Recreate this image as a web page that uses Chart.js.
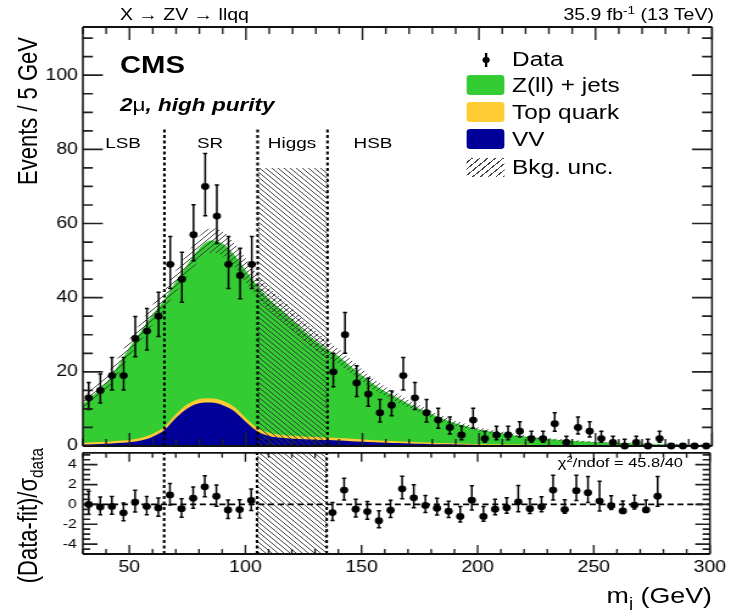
<!DOCTYPE html>
<html>
<head>
<meta charset="utf-8">
<title>X → ZV → llqq: jet mass distribution</title>
<script src="https://cdn.jsdelivr.net/npm/chart.js@4.4.1/dist/chart.umd.min.js"></script>
<style>
  html, body { margin: 0; padding: 0; background: #fff; }
  /* the figure is laid out 600 px wide and widened to 731 px */
  #fig { position: relative; width: 600px; height: 610px; overflow: hidden;
         transform: scaleX(1.21833); transform-origin: 0 0;
         font-family: "Liberation Sans", Arial, Helvetica, sans-serif; color: #000; }
  #fig canvas { position: absolute; left: 0; }
  #mainCanvas { top: 0; }
  #pullCanvas { top: 440px; }
  .lbl { position: absolute; white-space: nowrap; line-height: 1; }
  .ctr { transform: translateX(-50%); }
  .vt { position: absolute; white-space: nowrap; line-height: 1; width: 300px; text-align: right;
        transform: rotate(-90deg); transform-origin: left top; }
  .sw { position: absolute; left: 383.3px; width: 31px; height: 20px; border-radius: 3px; }
  sup, sub { font-size: 0.7em; vertical-align: 0; position: relative; }
  sup { top: -0.55em; }
  sub { top: 0.3em; }
</style>
</head>
<body>
<div id="fig">
  <canvas id="mainCanvas" width="600" height="470"></canvas>
  <canvas id="pullCanvas" width="600" height="170"></canvas>

  <div class="lbl" style="left:98.5px; top:7px; font-size:16px;">X → ZV → llqq</div>
  <div class="lbl" style="right:14px; top:7px; font-size:16px;">35.9 fb<sup>-1</sup> (13 TeV)</div>
  <div class="lbl" style="left:98.5px; top:53px; font-size:24px; font-weight:bold;">CMS</div>
  <div class="lbl" style="left:98.5px; top:96px; font-size:18.5px; font-weight:bold; font-style:italic;">2<span style="font-style:normal; font-weight:normal;">μ</span>, high purity</div>

  <div class="lbl ctr" style="left:101px; top:135.4px; font-size:15.5px;">LSB</div>
  <div class="lbl ctr" style="left:172.4px; top:135.4px; font-size:15.5px;">SR</div>
  <div class="lbl ctr" style="left:239.7px; top:135.4px; font-size:15.5px;">Higgs</div>
  <div class="lbl ctr" style="left:306.2px; top:135.4px; font-size:15.5px;">HSB</div>

  <!-- legend -->
  <div style="position:absolute; left:398.2px; top:53px; width:1.4px; height:14px; background:#000;"></div>
  <div style="position:absolute; left:395.5px; top:56.6px; width:6.8px; height:6.8px; border-radius:50%; background:#000;"></div>
  <div class="lbl" style="left:420.3px; top:48.5px; font-size:20px;">Data</div>
  <div class="sw" style="top:75px; background:#33cc33;"></div>
  <div class="lbl" style="left:420.3px; top:75.2px; font-size:20px;">Z(ll) + jets</div>
  <div class="sw" style="top:102px; background:#ffcc33;"></div>
  <div class="lbl" style="left:420.3px; top:102.2px; font-size:20px;">Top quark</div>
  <div class="sw" style="top:129px; background:#000099;"></div>
  <div class="lbl" style="left:420.3px; top:129.2px; font-size:20px;">VV</div>
  <div class="sw" style="top:158px; height:19px; border-radius:0; background:repeating-linear-gradient(-45deg, #444 0 1px, transparent 1px 4.5px);"></div>
  <div class="lbl" style="left:420.3px; top:157.2px; font-size:20px;">Bkg. unc.</div>

  <div class="lbl" style="right:39.4px; top:456.4px; font-size:13.5px;">χ<sup>2</sup>/ndof = 45.8/40</div>

  <div class="vt" style="left:12.3px; top:337px; font-size:22px;">Events / 5 GeV</div>
  <div class="vt" style="left:12.3px; top:748px; font-size:22px;">(Data-fit)/σ<sub>data</sub></div>
  <div class="lbl" style="right:15.6px; top:585px; font-size:22px;">m<sub>j</sub> (GeV)</div>
</div>

<script>
// ---------------- measured data: events per 5 GeV bin ----------------
const binCenters = [32.5, 37.5, 42.5, 47.5, 52.5, 57.5, 62.5, 67.5, 72.5, 77.5, 82.5, 87.5, 92.5, 97.5, 102.5,
  107.5, 112.5, 117.5, 122.5, 127.5, 132.5,
  137.5, 142.5, 147.5, 152.5, 157.5, 162.5, 167.5, 172.5, 177.5, 182.5, 187.5, 192.5, 197.5, 202.5,
  207.5, 212.5, 217.5, 222.5, 227.5, 232.5, 237.5, 242.5, 247.5, 252.5, 257.5, 262.5, 267.5, 272.5,
  277.5, 282.5, 287.5, 292.5, 297.5];
// Higgs window (105-135 GeV) is blinded
const dataCounts = [13, 15, 19, 19, 29, 31, 35, 49, 45, 57, 70, 62, 49, 46, 49,
  null, null, null, null, null, null,
  20, 30, 17, 14, 9, 11, 19, 13, 9, 7, 5, 3, 7, 2,
  3, 3, 4, 2, 2, 6, 1, 5, 4, 2, 1, 0, 1, 0,
  2, 0, 0, 0, 0];
// (Data - fit) / sigma_data per bin
const pullValues = [0.0, -0.26, -0.2, -0.85, 0.23, -0.2, -0.36, 0.95, -0.43, 0.62, 1.77, 0.82, -0.56, -0.52, 0.39,
  null, null, null, null, null, null,
  -0.82, 1.44, -0.49, -0.72, -1.64, -0.59, 1.57, 0.66, -0.1, -0.39, -0.69, -1.21, 0.43, -1.21,
  -0.49, -0.33, 0.26, -0.43, -0.23, 1.44, -0.52, 1.38, 1.18, 0.33, -0.13, -0.66, -0.07, -0.56,
  0.82, null, null, null, null];

// ---------------- background fit, sampled every 5 GeV ----------------
const fitMass = [30, 35, 40, 45, 50, 55, 60, 65, 70, 75, 80, 85, 90, 95, 100, 105, 110, 115, 120, 125,
  130, 135, 140, 145, 150, 155, 160, 165, 170, 175, 180, 185, 190, 195, 200, 205, 210, 215, 220, 225,
  230, 235, 240, 245, 250, 255, 260, 265, 270, 275, 280, 285, 290, 295, 300];
const fitVV = [0.4, 0.5, 0.6, 0.8, 1.0, 1.5, 2.5, 4.3, 7.6, 10.2, 11.5, 11.7, 11.0, 9.4, 6.5, 3.9, 2.7, 2.2, 1.95, 1.8,
  1.7, 1.6, 1.45, 1.3, 1.15, 1.0, 0.9, 0.8, 0.7, 0.6, 0.5, 0.45, 0.4, 0.35, 0.3, 0.25, 0.22, 0.2, 0.17, 0.15,
  0.13, 0.12, 0.1, 0.09, 0.08, 0.07, 0.06, 0.05, 0.05, 0.04, 0.04, 0.03, 0.03, 0.03, 0.02];
const fitTopQuark = [0.5, 0.5, 0.55, 0.6, 0.65, 0.7, 0.8, 0.9, 1.0, 1.1, 1.2, 1.2, 1.2, 1.1, 1.0, 0.95, 0.9, 0.85, 0.8, 0.78,
  0.75, 0.72, 0.7, 0.66, 0.62, 0.58, 0.54, 0.5, 0.46, 0.42, 0.38, 0.35, 0.32, 0.29, 0.26, 0.23, 0.21, 0.19, 0.17, 0.15,
  0.13, 0.12, 0.11, 0.1, 0.09, 0.08, 0.07, 0.06, 0.05, 0.05, 0.04, 0.04, 0.03, 0.03, 0.03];
const fitZJets = [10.4, 13.0, 15.9, 20.1, 24.9, 28.8, 32.2, 34.3, 35.9, 37.7, 40.6, 42.5, 42.4, 41.0, 39.8, 38.2, 36.0, 33.8, 31.3, 28.4,
  25.9, 23.7, 21.9, 19.5, 17.2, 15.0, 13.2, 11.7, 10.2, 8.9, 7.6, 6.4, 5.4, 4.6, 3.9, 3.4, 3.0, 2.5, 2.2, 1.9,
  1.6, 1.4, 1.2, 1.0, 0.9, 0.75, 0.67, 0.6, 0.5, 0.41, 0.37, 0.33, 0.29, 0.24, 0.2];
const fitUncertainty = [1.8, 1.9, 2.0, 2.15, 2.3, 2.45, 2.6, 2.75, 2.9, 3.05, 3.2, 3.3, 3.3, 3.25, 3.2, 3.1, 3.0, 2.9, 2.8, 2.65,
  2.5, 2.3, 2.1, 1.85, 1.65, 1.45, 1.3, 1.15, 1.05, 0.95, 0.85, 0.75, 0.68, 0.6, 0.55, 0.5, 0.45, 0.4, 0.36, 0.33,
  0.3, 0.27, 0.25, 0.23, 0.21, 0.19, 0.17, 0.16, 0.15, 0.14, 0.13, 0.12, 0.11, 0.1, 0.1];

// ---------------- regions and axes ----------------
const regionEdges = [65, 105, 135];
const higgsWindow = [105, 135];
const higgsBoxTop = 75;
const regionLineTop = 86;
const massRange = [30, 300];
const eventsRange = [0, 113];
const pullRange = [-5, 5.2];
const xTickLabels = [50, 100, 150, 200, 250, 300];
const yTickLabels = [0, 20, 40, 60, 80, 100];
const pullTickLabels = [-4, -2, 0, 2, 4];

// ---------------- helpers ----------------
Chart.defaults.font.family = '"Liberation Sans", Arial, Helvetica, sans-serif';
Chart.defaults.color = '#000';

// approximate 68% Poisson interval of an observed count
function poissonErr(n) {
  if (n === 0) return { lo: 0, hi: 1.84 };
  const r = Math.sqrt(n + 0.25);
  return { lo: r - 0.5, hi: r + 0.5 };
}

function hatch(dir, size, color, width) {
  const c = document.createElement('canvas');
  c.width = size; c.height = size;
  const g = c.getContext('2d');
  g.strokeStyle = color; g.lineWidth = width;
  g.beginPath();
  if (dir === '/') {
    g.moveTo(-1, size + 1); g.lineTo(size + 1, -1);
    g.moveTo(-1, 1); g.lineTo(1, -1);
    g.moveTo(size - 1, size + 1); g.lineTo(size + 1, size - 1);
  } else {
    g.moveTo(-1, -1); g.lineTo(size + 1, size + 1);
    g.moveTo(-1, size - 1); g.lineTo(1, size + 1);
    g.moveTo(size - 1, -1); g.lineTo(size + 1, 1);
  }
  g.stroke();
  return g.createPattern(c, 'repeat');
}
const slashHatch = hatch('/', 5, '#333', 0.9);
const backHatch = hatch('\\', 5, '#333', 0.9);

const pts = ys => fitMass.map((m, i) => ({ x: m, y: ys[i] }));
const stackVV = fitVV.slice();
const stackTop = fitVV.map((v, i) => v + fitTopQuark[i]);
const stackAll = stackTop.map((v, i) => v + fitZJets[i]);
const bandHi = stackAll.map((v, i) => v + fitUncertainty[i]);
const bandLo = stackAll.map((v, i) => Math.max(0, v - fitUncertainty[i]));

// measured points and their error bars
const dataPoints = [], mainBars = [], pullPoints = [], pullBars = [];
binCenters.forEach((m, i) => {
  const n = dataCounts[i];
  if (n === null) return;
  dataPoints.push({ x: m, y: n });
  const e = poissonErr(n);
  const p = pullValues[i];
  if (n > 0 || p !== null) mainBars.push({ x: m, lo: n - e.lo, hi: n + e.hi });
  if (p !== null) {
    pullPoints.push({ x: m, y: p });
    let up, dn;
    if (p >= 0) { dn = 1; up = e.lo > 0 ? e.hi / e.lo : 1; }
    else { up = 1; dn = e.lo / e.hi; }
    pullBars.push({ x: m, lo: p - dn, hi: p + up });
  }
});

// frame, inward ticks on all sides and error bars, painted just before the data markers
function panelDecor(cfg) {
  return {
    id: 'panelDecor',
    beforeDatasetDraw(chart, args) {
      if (args.index !== 0) return;
      const { ctx, chartArea: a } = chart;
      const xs = chart.scales.x, ys = chart.scales.y;
      ctx.save();
      // error bars
      ctx.strokeStyle = '#000';
      ctx.lineWidth = 1.5;
      ctx.beginPath();
      for (const b of cfg.bars) {
        const px = xs.getPixelForValue(b.x);
        const p1 = ys.getPixelForValue(Math.max(b.lo, ys.min));
        const p2 = ys.getPixelForValue(Math.min(b.hi, ys.max));
        ctx.moveTo(px, p1); ctx.lineTo(px, p2);
        ctx.moveTo(px - 1.7, p1); ctx.lineTo(px + 1.7, p1);
        ctx.moveTo(px - 1.7, p2); ctx.lineTo(px + 1.7, p2);
      }
      ctx.stroke();
      // ticks
      ctx.strokeStyle = '#222';
      ctx.beginPath();
      ctx.lineWidth = 1.4;
      for (let v = cfg.xStart; v <= xs.max + 1e-9; v += cfg.xStep) {
        const px = xs.getPixelForValue(v);
        const len = xTickLabels.includes(v) ? cfg.xMajor : cfg.xMinor;
        ctx.moveTo(px, a.bottom); ctx.lineTo(px, a.bottom - len);
        ctx.moveTo(px, a.top); ctx.lineTo(px, a.top + len);
      }
      ctx.stroke();
      ctx.beginPath();
      ctx.lineWidth = 1.7;
      for (let v = cfg.yStart; v <= ys.max + 1e-9; v += cfg.yStep) {
        const py = ys.getPixelForValue(v);
        const major = cfg.yMajorList.some(t => Math.abs(t - v) < 1e-6);
        const len = major ? cfg.yMajor : cfg.yMinor;
        ctx.moveTo(a.left, py); ctx.lineTo(a.left + len, py);
        ctx.moveTo(a.right, py); ctx.lineTo(a.right - len, py);
      }
      ctx.stroke();
      // frame
      ctx.strokeStyle = '#111';
      ctx.lineWidth = 1.8;
      ctx.beginPath();
      ctx.moveTo(a.left, a.top); ctx.lineTo(a.right, a.top);
      ctx.moveTo(a.left, a.bottom); ctx.lineTo(a.right, a.bottom);
      ctx.stroke();
      ctx.lineWidth = 1.5;
      ctx.beginPath();
      ctx.moveTo(a.left, a.top); ctx.lineTo(a.left, a.bottom);
      ctx.moveTo(a.right, a.top); ctx.lineTo(a.right, a.bottom);
      ctx.stroke();
      ctx.restore();
    }
  };
}

const clear = 'rgba(0,0,0,0)';
const smooth = { pointRadius: 0, borderWidth: 0, borderColor: clear, cubicInterpolationMode: 'monotone' };

// ---------------- upper panel: events ----------------
new Chart(document.getElementById('mainCanvas'), {
  type: 'line',
  data: {
    datasets: [
      { type: 'scatter', label: 'Data', data: dataPoints, order: 0, pointRadius: 3.4, pointHoverRadius: 3.4,
        pointBackgroundColor: '#000', pointBorderWidth: 0, clip: false },
      { label: 'Bkg. unc.', data: pts(bandHi), order: 1, fill: '+1', backgroundColor: slashHatch, ...smooth },
      { label: 'Bkg. unc. lower edge', data: pts(bandLo), order: 1, fill: false, ...smooth },
      ...regionEdges.map(e => ({ label: 'edge ' + e, data: [{ x: e, y: 0 }, { x: e, y: regionLineTop }], order: 2,
        borderColor: '#000', borderWidth: 2.1, borderDash: [3, 2.5], pointRadius: 0, fill: false })),
      { label: 'Higgs window', data: [{ x: higgsWindow[0], y: higgsBoxTop }, { x: higgsWindow[1], y: higgsBoxTop }],
        order: 3, fill: 'origin', backgroundColor: backHatch, borderColor: clear, borderWidth: 0, pointRadius: 0 },
      { label: 'VV', data: pts(stackVV), order: 4, fill: 'origin', backgroundColor: '#000099', ...smooth },
      { label: 'Top quark', data: pts(stackTop), order: 5, fill: 'origin', backgroundColor: '#ffcc33', ...smooth },
      { label: 'Z(ll) + jets', data: pts(stackAll), order: 6, fill: 'origin', backgroundColor: '#33cc33', ...smooth }
    ]
  },
  options: {
    responsive: false, animation: false, events: [],
    layout: { padding: { top: 27, right: 15.6, bottom: 24, left: 0 }, autoPadding: false },
    plugins: { legend: { display: false }, tooltip: { enabled: false } },
    scales: {
      x: { type: 'linear', min: massRange[0], max: massRange[1], display: false },
      y: {
        type: 'linear', min: eventsRange[0], max: eventsRange[1],
        afterFit: s => { s.width = 68; },
        grid: { display: false, drawTicks: false }, border: { display: false },
        ticks: { stepSize: 5, autoSkip: false, includeBounds: false, padding: 4, color: '#000',
                 font: { size: 16 },
                 callback: v => yTickLabels.includes(v) ? String(v) : '' }
      }
    }
  },
  plugins: [panelDecor({ bars: mainBars, xStart: 30, xStep: 10, xMajor: 13, xMinor: 7,
                         yStart: 0, yStep: 5, yMajorList: yTickLabels, yMajor: 16.4, yMinor: 8.2 })]
});

// ---------------- lower panel: pulls ----------------
new Chart(document.getElementById('pullCanvas'), {
  type: 'line',
  data: {
    datasets: [
      { type: 'scatter', label: 'Pull', data: pullPoints, order: 0, pointRadius: 3.4, pointHoverRadius: 3.4,
        pointBackgroundColor: '#000', pointBorderWidth: 0, clip: false },
      { label: 'zero', data: [{ x: massRange[0], y: 0 }, { x: massRange[1], y: 0 }], order: 2,
        borderColor: '#000', borderWidth: 1.8, borderDash: [5, 3], pointRadius: 0, fill: false },
      ...regionEdges.map(e => ({ label: 'edge ' + e, data: [{ x: e, y: pullRange[0] }, { x: e, y: pullRange[1] }], order: 2,
        borderColor: '#000', borderWidth: 2.1, borderDash: [3, 2.5], pointRadius: 0, fill: false })),
      { label: 'Higgs window', data: [{ x: higgsWindow[0], y: pullRange[1] }, { x: higgsWindow[1], y: pullRange[1] }],
        order: 3, fill: 'start', backgroundColor: backHatch, borderColor: clear, borderWidth: 0, pointRadius: 0 }
    ]
  },
  options: {
    responsive: false, animation: false, events: [],
    layout: { padding: { top: 12, right: 15.6, bottom: 26, left: 0 }, autoPadding: false },
    plugins: { legend: { display: false }, tooltip: { enabled: false } },
    scales: {
      x: {
        type: 'linear', min: massRange[0], max: massRange[1],
        afterFit: s => { s.height = 30; },
        grid: { display: false, drawTicks: false }, border: { display: false },
        ticks: { stepSize: 10, autoSkip: false, maxRotation: 0, minRotation: 0, padding: 4, color: '#000',
                 font: { size: 16 },
                 callback: v => xTickLabels.includes(v) ? String(v) : '' }
      },
      y: {
        type: 'linear', min: pullRange[0], max: pullRange[1],
        afterFit: s => { s.width = 68; },
        grid: { display: false, drawTicks: false }, border: { display: false },
        ticks: { stepSize: 0.5, autoSkip: false, includeBounds: false, padding: 5, color: '#000',
                 font: { size: 13 },
                 callback: v => pullTickLabels.some(t => Math.abs(t - v) < 1e-6) ? String(Math.round(v)) : '' }
      }
    }
  },
  plugins: [panelDecor({ bars: pullBars, xStart: 30, xStep: 10, xMajor: 9, xMinor: 5,
                         yStart: -5, yStep: 0.5, yMajorList: pullTickLabels, yMajor: 12, yMinor: 6 })]
});
</script>
</body>
</html>
